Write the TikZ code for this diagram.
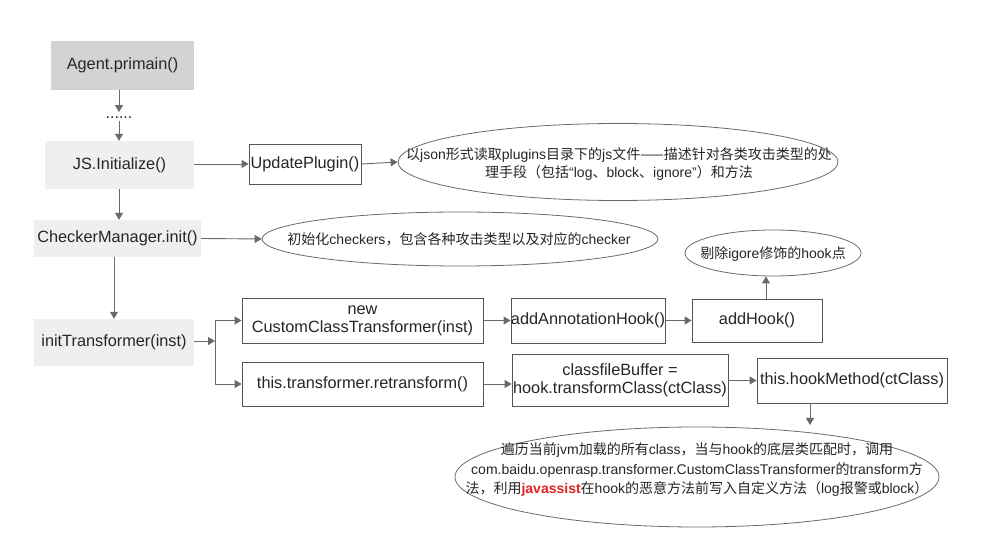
\documentclass[tikz,border=0pt]{standalone}
\usepackage{fontspec}
\setmainfont{Liberation Sans}
\newfontfamily\zhfont{Noto Sans CJK SC}
\newcommand\zh[1]{{\zhfont #1}}
\usetikzlibrary{arrows.meta,shapes.geometric}
\definecolor{linegray}{HTML}{6A6A6A}
\definecolor{boxgray}{HTML}{555555}
\definecolor{darkfill}{HTML}{D3D3D3}
\definecolor{lightfill}{HTML}{EFEFEF}
\definecolor{hlred}{HTML}{E02424}
\tikzset{
  arr/.style={draw=linegray, line width=0.9pt, -{Triangle[length=7pt,width=8pt]}},
  ln/.style={draw=linegray, line width=0.9pt},
  grayblock/.style={fill=lightfill, draw=none, inner sep=0pt, font=\fontsize{16.3}{18}\selectfont, text=black!85},
  darkblock/.style={fill=darkfill, draw=none, inner sep=0pt, font=\fontsize{16.3}{18}\selectfont, text=black!85},
  framebox/.style={draw=boxgray, line width=0.8pt, inner sep=0pt, align=center, font=\fontsize{16.3}{18}\selectfont, text=black!85},
  ell/.style={ellipse, draw=linegray, line width=0.8pt, inner sep=0pt},
  etext/.style={inner sep=0pt, align=center, text=black!85}
}
\begin{document}
\begin{tikzpicture}[x=1pt,y=-1pt]
\useasboundingbox[fill=white] (0,0) rectangle (1002,534);

% left column
\node[darkblock, minimum width=143pt, minimum height=49pt] (agent) at (122.5,65.5) {Agent.primain()};
\node[inner sep=0pt, anchor=base, font=\fontsize{16}{18}\selectfont, text=black!85] (dots) at (119,119) {......};
\node[grayblock, minimum width=149pt, minimum height=48pt] (js) at (119.5,165) {JS.Initialize()};
\node[grayblock, minimum width=167pt, minimum height=37pt] (checker) at (117.5,238.5) {CheckerManager.init()};
\node[grayblock, minimum width=160pt, minimum height=47pt] (init) at (114,342.5) {initTransformer(inst)};

% top row
\node[framebox, minimum width=112pt, minimum height=40pt] (update) at (305,164) {UpdatePlugin()};
\node[ell, minimum width=440pt, minimum height=77pt] (e1) at (618,162) {};
\node[etext, font=\fontsize{14}{18}\selectfont] (t1) at (619,164)
  {\zh{以}json\zh{形式读取}plugins\zh{目录下的}js\zh{文件——描述针对各类攻击类型的处}\\
   \zh{理手段（包括}“log\zh{、}block\zh{、}ignore”\zh{）和方法}};

\node[ell, minimum width=396pt, minimum height=54pt] (e2) at (460,239) {};
\node[etext, font=\fontsize{14}{18}\selectfont] (t2) at (459,239)
  {\zh{初始化}checkers\zh{，包含各种攻击类型以及对应的}checker};

% transformer rows
\node[framebox, minimum width=241pt, minimum height=45pt] (newcct) at (362.5,320.5) {new\\CustomClassTransformer(inst)};
\node[framebox, minimum width=154pt, minimum height=45pt] (addann) at (588,320.5) {addAnnotationHook()};
\node[framebox, minimum width=130pt, minimum height=43pt] (addhook) at (757,320.5) {addHook()};
\node[ell, minimum width=176pt, minimum height=46pt] (e4) at (773,253) {};
\node[etext, font=\fontsize{14}{18}\selectfont] (t4) at (773,254) {\zh{剔除}igore\zh{修饰的}hook\zh{点}};

\node[framebox, minimum width=241pt, minimum height=44pt] (retr) at (362.5,384) {this.transformer.retransform()};
\node[framebox, minimum width=216pt, minimum height=52pt] (cfb) at (620,380.5) {classfileBuffer =\\hook.transformClass(ctClass)};
\node[framebox, minimum width=190pt, minimum height=45pt] (hookm) at (852,380.5) {this.hookMethod(ctClass)};

\node[ell, minimum width=484pt, minimum height=100pt] (e3) at (697,477) {};
\node[etext, font=\fontsize{14}{19.5}\selectfont] (t3) at (697,470)
  {\zh{遍历当前}jvm\zh{加载的所有}class\zh{，当与}hook\zh{的底层类匹配时，调用}\\
   com.baidu.openrasp.transformer.CustomClassTransformer\zh{的}transform\zh{方}\\
   \zh{法，利用}\textcolor{hlred}{\textbf{javassist}}\zh{在}hook\zh{的恶意方法前写入自定义方法（}log\zh{报警或}block\zh{）}};

% connectors
\draw[arr, shorten >=5pt] (agent.south -| dots.north) -- (dots.north);
\draw[arr, shorten <=2pt] (dots.south) -- (dots.south |- js.north);
\draw[arr] (update.west -| js.east) -- (update.west);
\draw[arr] (update.east) -- (e1.west);
\draw[arr] (js.south -| dots.south) -- (checker.north -| dots.south);
\draw[arr] (checker.east) -- (e2.west);
\draw[arr] (checker.south -| init.north) -- (init.north);

\coordinate (fork) at (215,341);
\draw[arr] (fork -| init.east) -- (fork);
\draw[ln] (fork |- newcct.west) -- (fork |- retr.west);
\draw[arr] (fork |- newcct.west) -- (newcct.west);
\draw[arr] (fork |- retr.west) -- (retr.west);

\draw[arr] (newcct.east) -- (addann.west);
\draw[arr] (addann.east) -- (addhook.west);
\draw[arr] ([xshift=9pt]addhook.north) -- ([xshift=9pt]addhook.north |- e4.south);
\draw[arr] (retr.east) -- (retr.east -| cfb.west);
\draw[arr] (hookm.west -| cfb.east) -- (hookm.west);
\coordinate (h3) at (810,425);
\draw[arr] (hookm.south -| h3) -- (h3);
\end{tikzpicture}
\end{document}
